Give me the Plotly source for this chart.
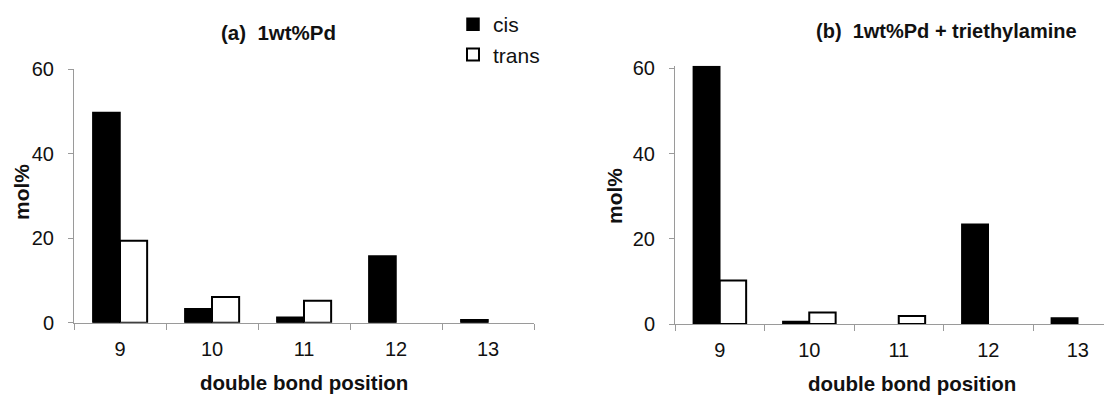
import plotly.graph_objects as go

positions = ["9", "10", "11", "12", "13"]
cis_a = [49.7, 3.3, 1.3, 15.8, 0.7]
trans_a = [19.4, 6.1, 5.2, 0, 0]
cis_b = [60.4, 0.6, 0, 23.4, 1.4]
trans_b = [10.2, 2.7, 1.9, 0, 0]
y_ticks = [0, 20, 40, 60]

FONT = "Arial, Liberation Sans, sans-serif"
AX = "#9a9a9a"
PAGE_W, PAGE_H = 1112, 397
OFF = 8  # default body margin of the html page
W, H = PAGE_W - OFF, PAGE_H - OFF


def nz(vals):
    # zero-height bars are not drawn in the reference
    return [v if v > 0 else None for v in vals]


fig = go.Figure()
fig.add_trace(go.Bar(x=positions, y=nz(cis_a), name="cis", marker=dict(color="black", line=dict(color="black", width=1.5)),
                     xaxis="x", yaxis="y", showlegend=True))
fig.add_trace(go.Bar(x=positions, y=nz(trans_a), name="trans", marker=dict(color="white", line=dict(color="black", width=2)),
                     xaxis="x", yaxis="y", showlegend=True))
fig.add_trace(go.Bar(x=positions, y=nz(cis_b), name="cis", marker=dict(color="black", line=dict(color="black", width=1.5)),
                     xaxis="x2", yaxis="y2", showlegend=False))
fig.add_trace(go.Bar(x=positions, y=nz(trans_b), name="trans", marker=dict(color="white", line=dict(color="black", width=2)),
                     xaxis="x2", yaxis="y2", showlegend=False))


def px_x(p):
    return (p - OFF) / W


def px_y(p):
    return 1 - (p - OFF) / H


xcommon = dict(type="category", showline=True, linecolor=AX, linewidth=1, ticks="outside", tickson="boundaries",
               ticklen=6, tickcolor=AX, tickwidth=1, showgrid=False, zeroline=False,
               tickfont=dict(family=FONT, size=20, color="#111"), ticklabelstandoff=8)
ycommon = dict(showline=True, linecolor=AX, linewidth=1, ticks="outside", ticklen=5, tickcolor=AX, tickwidth=1,
               showgrid=False, zeroline=False, tickvals=y_ticks,
               tickfont=dict(family=FONT, size=20, color="#111"), ticklabelstandoff=10)

r_top = 324 - 60.6 * (324 - 68.3) / 60

fig.update_layout(
    width=W, height=H,
    margin=dict(l=0, r=0, t=0, b=0, autoexpand=False),
    paper_bgcolor="white", plot_bgcolor="white",
    barmode="group", bargap=0.41, bargroupgap=0,
    xaxis=dict(domain=[px_x(74), px_x(534)], anchor="y", range=[-0.5, 4.5], categoryorder="array",
               categoryarray=positions, **xcommon),
    yaxis=dict(domain=[px_y(322.7), px_y(69)], anchor="x", range=[0, 60], **ycommon),
    xaxis2=dict(domain=[px_x(675), 1.0], anchor="y2", range=[-0.5, 4.5 - (1122.5 - PAGE_W) / 89.5],
                categoryorder="array", categoryarray=positions, **xcommon),
    yaxis2=dict(domain=[px_y(324), px_y(r_top)], anchor="x2", range=[0, 60.6], **ycommon),
    legend=dict(x=px_x(453), y=px_y(4), xanchor="left", yanchor="top", bgcolor="rgba(0,0,0,0)",
                font=dict(family=FONT, size=21, color="#111"), itemwidth=30, tracegroupgap=0),
    showlegend=True,
)

ann = [
    dict(text="<b>(a)  1wt%Pd</b>", x=px_x(278), y=px_y(33), size=20.5),
    dict(text="<b>(b)  1wt%Pd + triethylamine</b>", x=px_x(947), y=px_y(30.7), size=20),
    dict(text="<b>double bond position</b>", x=px_x(304), y=px_y(382), size=20.5),
    dict(text="<b>double bond position</b>", x=px_x(912), y=px_y(383), size=20.5),
]
for a in ann:
    fig.add_annotation(text=a["text"], x=a["x"], y=a["y"], xref="paper", yref="paper", showarrow=False,
                       xanchor="center", yanchor="middle", font=dict(family=FONT, size=a["size"], color="#111"))
for xp, yp in [(21, 192), (614, 196)]:
    fig.add_annotation(text="<b>mol%</b>", x=px_x(xp), y=px_y(yp), xref="paper", yref="paper", showarrow=False,
                       textangle=-90, xanchor="center", yanchor="middle",
                       font=dict(family=FONT, size=21, color="#111"))

fig.write_html("out.html")
